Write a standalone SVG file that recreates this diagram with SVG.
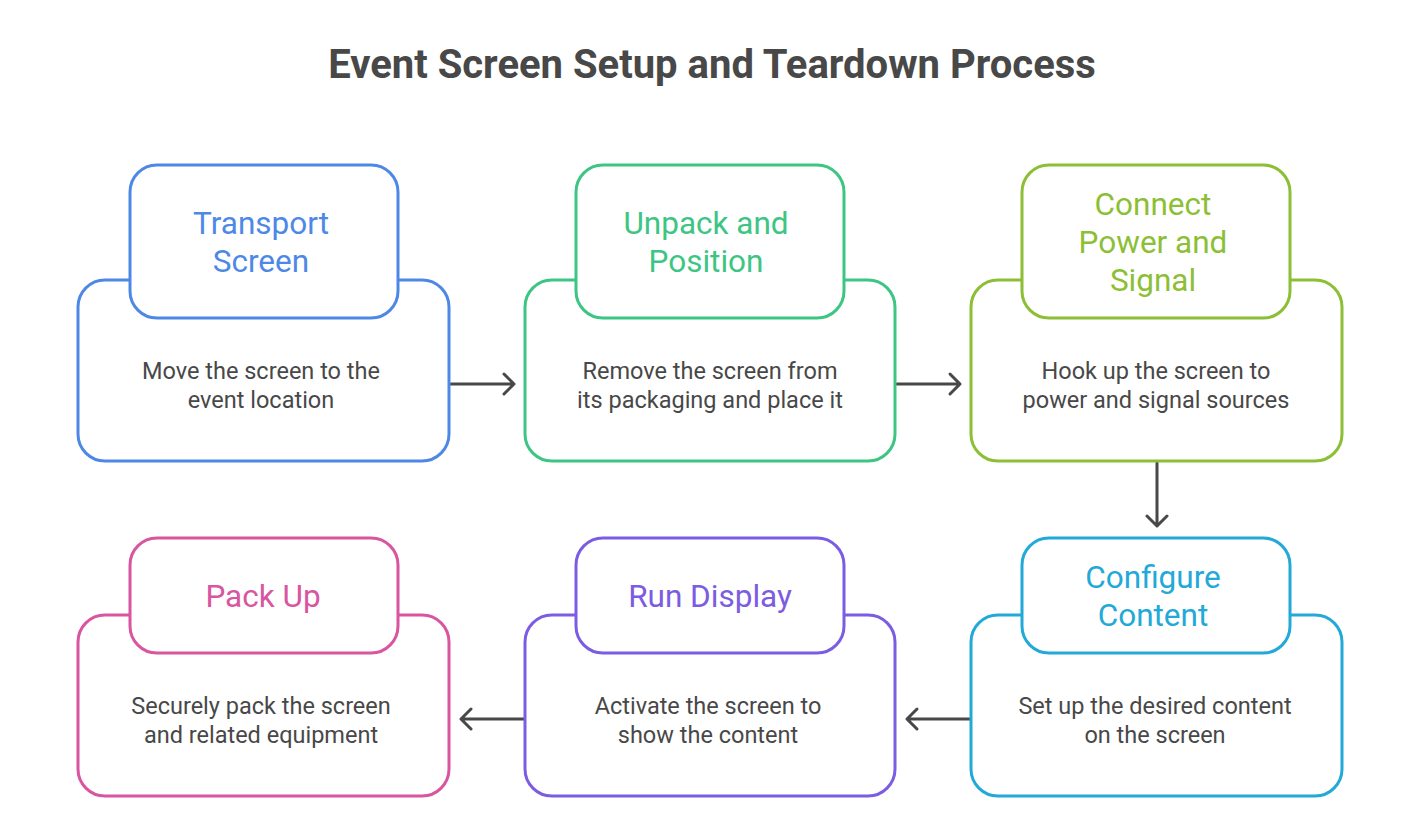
<svg xmlns="http://www.w3.org/2000/svg" width="1410" height="832" viewBox="0 0 1410 832">
<style>
.bg{fill:#fff}
.box{fill:#fff;stroke-width:3}
.t{font-family:Roboto,"Liberation Sans",sans-serif;font-size:31.5px;text-anchor:middle}
.d{font-family:Roboto,"Liberation Sans",sans-serif;font-size:23.5px;fill:#484848;text-anchor:middle}
.title{font-family:Roboto,"Liberation Sans",sans-serif;font-size:40px;font-weight:bold;fill:#484848;text-anchor:middle}
.c{stroke:#484848;stroke-width:3;fill:none;stroke-linecap:round;stroke-linejoin:round}
</style>
<rect class="bg" x="0" y="0" width="1410" height="832"/>
<text class="title" x="712" y="78">Event Screen Setup and Teardown Process</text>
<g id="connectors">
<path class="c" d="M451 384H514M504 374L514 384L504 394"/>
<path class="c" d="M897 384H960M950 374L960 384L950 394"/>
<path class="c" d="M1157 463V526M1147 516L1157 526L1167 516"/>
<path class="c" d="M970 719H907M917 709L907 719L917 729"/>
<path class="c" d="M524 719H461M471 709L461 719L471 729"/>
</g>
<g id="node1">
<rect class="box" x="78" y="280" width="371" height="181" rx="27" stroke="#4e88e7"/>
<rect class="box" x="130" y="165" width="268" height="153" rx="27" stroke="#4e88e7"/>
<text class="t" fill="#4e88e7" x="261" y="234">Transport</text>
<text class="t" fill="#4e88e7" x="261" y="272">Screen</text>
<text class="d" x="261" y="379">Move the screen to the</text>
<text class="d" x="261" y="408">event location</text>
</g>
<g id="node2">
<rect class="box" x="525" y="280" width="370" height="181" rx="27" stroke="#3dc583"/>
<rect class="box" x="576" y="165" width="268" height="153" rx="27" stroke="#3dc583"/>
<text class="t" fill="#3dc583" x="706" y="234">Unpack and</text>
<text class="t" fill="#3dc583" x="706" y="272">Position</text>
<text class="d" x="710" y="379">Remove the screen from</text>
<text class="d" x="710" y="408">its packaging and place it</text>
</g>
<g id="node3">
<rect class="box" x="971" y="280" width="371" height="181" rx="27" stroke="#8cbf35"/>
<rect class="box" x="1022" y="165" width="268" height="153" rx="27" stroke="#8cbf35"/>
<text class="t" fill="#8cbf35" x="1153" y="215">Connect</text>
<text class="t" fill="#8cbf35" x="1153" y="253">Power and</text>
<text class="t" fill="#8cbf35" x="1153" y="291">Signal</text>
<text class="d" x="1156" y="379">Hook up the screen to</text>
<text class="d" x="1156" y="408">power and signal sources</text>
</g>
<g id="node4">
<rect class="box" x="971" y="615" width="371" height="181" rx="27" stroke="#22a9d8"/>
<rect class="box" x="1022" y="538" width="268" height="115" rx="27" stroke="#22a9d8"/>
<text class="t" fill="#22a9d8" x="1153" y="588">Configure</text>
<text class="t" fill="#22a9d8" x="1153" y="626">Content</text>
<text class="d" x="1155" y="714">Set up the desired content</text>
<text class="d" x="1155" y="743">on the screen</text>
</g>
<g id="node5">
<rect class="box" x="525" y="615" width="370" height="181" rx="27" stroke="#7b5ce2"/>
<rect class="box" x="576" y="538" width="268" height="115" rx="27" stroke="#7b5ce2"/>
<text class="t" fill="#7b5ce2" x="710" y="607">Run Display</text>
<text class="d" x="708" y="714">Activate the screen to</text>
<text class="d" x="708" y="743">show the content</text>
</g>
<g id="node6">
<rect class="box" x="78" y="615" width="371" height="181" rx="27" stroke="#d9559f"/>
<rect class="box" x="130" y="538" width="268" height="115" rx="27" stroke="#d9559f"/>
<text class="t" fill="#d9559f" x="263" y="607">Pack Up</text>
<text class="d" x="261" y="714">Securely pack the screen</text>
<text class="d" x="261" y="743">and related equipment</text>
</g>
</svg>
